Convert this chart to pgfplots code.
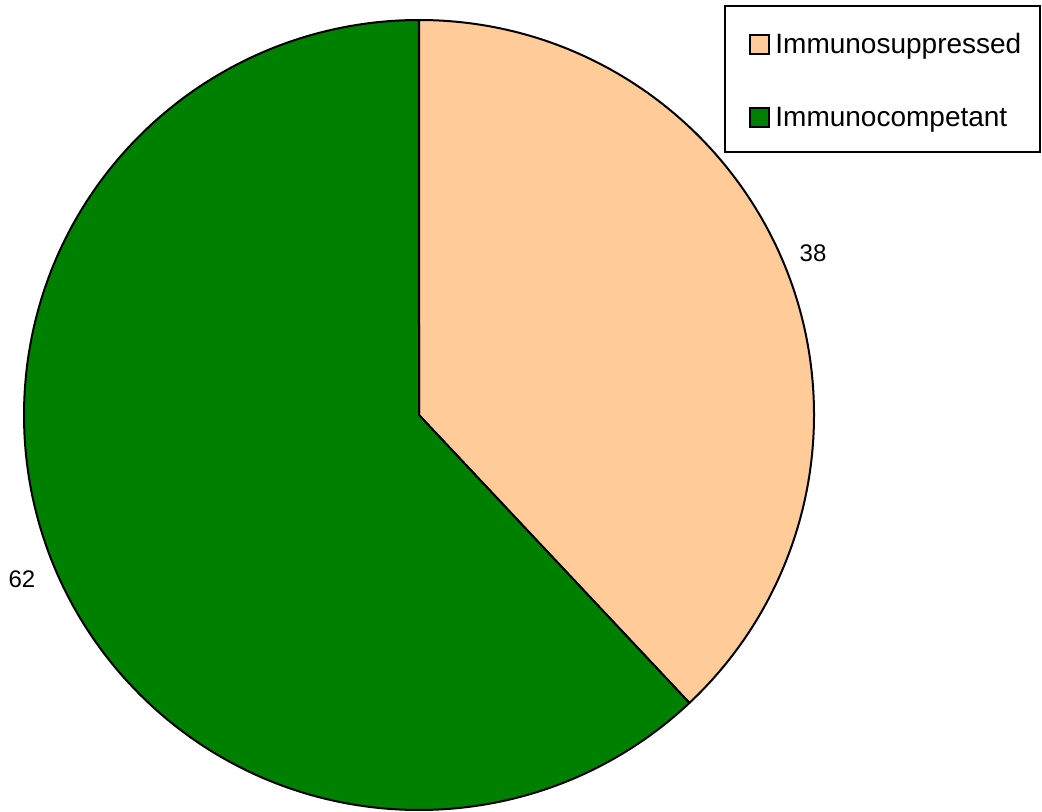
\documentclass[border=0pt]{standalone}
\usepackage{pgfplots}
\usepackage{pgfplotstable}
\pgfplotsset{compat=1.18}
\usepackage{fontspec}
\setmainfont{Liberation Sans}
\definecolor{peach}{RGB}{255,204,153}
\definecolor{darkgreen}{RGB}{0,128,0}
\pgfplotstableread{
label value
Immunosuppressed 38
Immunocompetant 62
}\piedata
\newcommand\legsq[1]{{\setlength\fboxsep{0pt}\setlength\fboxrule{1pt}\fcolorbox{black}{#1}{\rule{0pt}{8.5pt}\rule{8.5pt}{0pt}}}}
\begin{document}
\begin{tikzpicture}
\pgfplotstablegetelem{0}{value}\of\piedata \let\valA\pgfplotsretval
\pgfplotstablegetelem{1}{value}\of\piedata \let\valB\pgfplotsretval
\pgfplotstablegetelem{0}{label}\of\piedata \let\labA\pgfplotsretval
\pgfplotstablegetelem{1}{label}\of\piedata \let\labB\pgfplotsretval
\pgfmathsetmacro\angA{90-\valA/(\valA+\valB)*360}
\pgfmathsetmacro\angB{\angA-\valB/(\valA+\valB)*360}
\begin{axis}[
  x=0.5pt, y=0.5pt,
  xmin=0, xmax=1042, ymin=0, ymax=811,
  scale only axis, hide axis, clip=false,
]
\path (axis cs:0,0) rectangle (axis cs:1042,811);
\filldraw[overlay, fill=peach, draw=black, line width=1pt, line join=round]
  (axis cs:419,396) -- (axis cs:419,791) arc[start angle=90, end angle=\angA, radius=197.5pt] -- cycle;
\filldraw[overlay, fill=darkgreen, draw=black, line width=1pt, line join=round]
  (axis cs:419,396) -- ++(\angA:197.5pt) arc[start angle=\angA, end angle=\angB, radius=197.5pt] -- cycle;
\node[font=\fontsize{12}{14.4}\selectfont] at (axis cs:813,558) {\valA};
\node[font=\fontsize{12}{14.4}\selectfont] at (axis cs:22,232) {\valB};
% legend
\draw[line width=0.6pt, fill=white] (axis cs:725,805) rectangle (axis cs:1040,659);
\node[anchor=base west, inner sep=0pt, font=\fontsize{14}{16.8}\selectfont]
  at (axis cs:749,758) {\legsq{peach}\hspace{2.5pt}\labA};
\node[anchor=base west, inner sep=0pt, font=\fontsize{14}{16.8}\selectfont]
  at (axis cs:749,685) {\legsq{darkgreen}\hspace{2.5pt}\labB};
\end{axis}
\end{tikzpicture}
\end{document}
